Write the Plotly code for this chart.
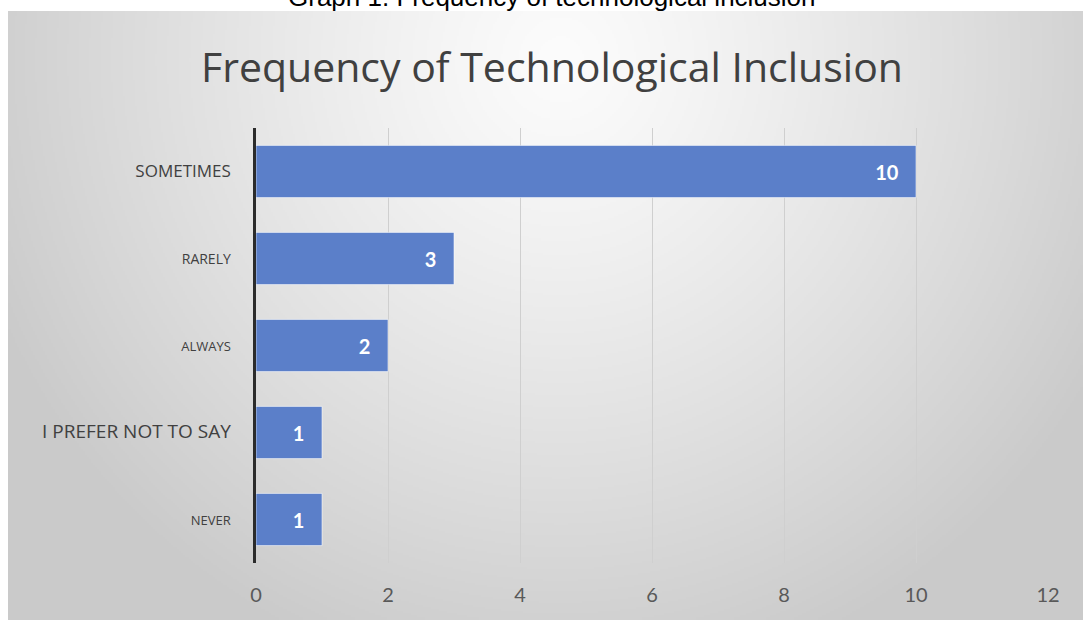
import base64
import struct
import zlib

import numpy as np
import plotly.graph_objects as go

# ---- data ----
categories = ["SOMETIMES", "RARELY", "ALWAYS", "I PREFER NOT TO SAY", "NEVER"]
counts = [10, 3, 2, 1, 1]
label_sizes = [17, 14, 13, 19, 13]
x_ticks = [0, 2, 4, 6, 8, 10, 12]

title_text = "Frequency of Technological Inclusion"
caption_text = "Graph 1. Frequency of technological inclusion"

W, H = 1083, 624
ML, MR, MT, MB = 256, 35, 128, 61
PW, PH = W - ML - MR, H - MT - MB

# panel (page pixel coordinates)
PX0, PX1, PY0, PY1 = 8, 1083, 11, 620


def px_to_paper_x(px):
    return (px - ML) / PW


def px_to_paper_y(py):
    return (H - MB - py) / PH


def make_gradient_png():
    scale = 2
    w = (PX1 - PX0) // scale
    h = (PY1 - PY0) // scale
    xs = PX0 + (np.arange(w) + 0.5) * scale
    ys = PY0 + (np.arange(h) + 0.5) * scale
    X, Y = np.meshgrid(xs, ys)
    d = np.sqrt(((X - 560) / 620.0) ** 2 + ((Y - 60) / 640.0) ** 2)
    d = np.clip(d, 0, 1)
    v = 252 - 50 * d ** 1.2
    v = np.clip(v, 0, 255).astype(np.uint8)
    arr = np.stack([v, v, v], axis=-1)
    raw = b"".join(b"\x00" + arr[i].tobytes() for i in range(h))

    def chunk(t, data):
        return (struct.pack(">I", len(data)) + t + data
                + struct.pack(">I", zlib.crc32(t + data) & 0xFFFFFFFF))

    png = (b"\x89PNG\r\n\x1a\n"
           + chunk(b"IHDR", struct.pack(">IIBBBBB", w, h, 8, 2, 0, 0, 0))
           + chunk(b"IDAT", zlib.compress(raw, 9))
           + chunk(b"IEND", b""))
    return "data:image/png;base64," + base64.b64encode(png).decode()


tick_text = [f'<span style="font-size:{s}px">{c}</span>'
             for c, s in zip(categories, label_sizes)]

fig = go.Figure()
fig.add_trace(go.Bar(
    x=counts,
    y=categories,
    orientation="h",
    marker=dict(color="rgb(91,127,201)",
                line=dict(color="rgba(255,255,255,0.55)", width=1)),
    texttemplate="%{x}\u00a0\u00a0\u00a0",
    textposition="inside",
    insidetextanchor="end",
    insidetextfont=dict(family="Lato", size=20, color="white", weight="bold"),
    constraintext="none",
    hoverinfo="skip",
))

fig.update_layout(
    width=W, height=H,
    margin=dict(l=ML, r=MR, t=MT, b=MB, pad=0),
    paper_bgcolor="white",
    plot_bgcolor="rgba(0,0,0,0)",
    showlegend=False,
    bargap=0.4,
    xaxis=dict(
        range=[0, 12],
        tickvals=x_ticks,
        ticktext=[str(t) for t in x_ticks],
        showgrid=True,
        gridcolor="#cfcfcf",
        gridwidth=1,
        zeroline=False,
        showline=False,
        ticks="",
        tickfont=dict(family="Lato", size=20, color="#595959"),
        ticklabelstandoff=18,
        fixedrange=True,
    ),
    yaxis=dict(
        categoryorder="array",
        categoryarray=categories,
        autorange="reversed",
        tickvals=categories,
        ticktext=tick_text,
        showgrid=False,
        zeroline=False,
        showline=True,
        linecolor="#2b2b2b",
        linewidth=3,
        ticks="",
        tickfont=dict(family="Open Sans", size=16, color="#404040"),
        ticklabelstandoff=19,
        fixedrange=True,
    ),
    images=[dict(
        source=make_gradient_png(),
        xref="paper", yref="paper",
        x=px_to_paper_x(PX0), y=px_to_paper_y(PY0),
        sizex=(PX1 - PX0) / PW, sizey=(PY1 - PY0) / PH,
        xanchor="left", yanchor="top",
        sizing="stretch",
        layer="below",
    )],
    annotations=[
        dict(text=title_text, xref="paper", yref="paper",
             x=px_to_paper_x(552), y=px_to_paper_y(66),
             xanchor="center", yanchor="middle", showarrow=False,
             font=dict(family="Open Sans", size=41, color="#404040")),
        dict(text=caption_text, xref="paper", yref="paper",
             x=px_to_paper_x(552), y=px_to_paper_y(14),
             xanchor="center", yanchor="bottom", showarrow=False,
             font=dict(family="Liberation Sans", size=26, color="black")),
    ],
)

fig.write_html("out.html")
